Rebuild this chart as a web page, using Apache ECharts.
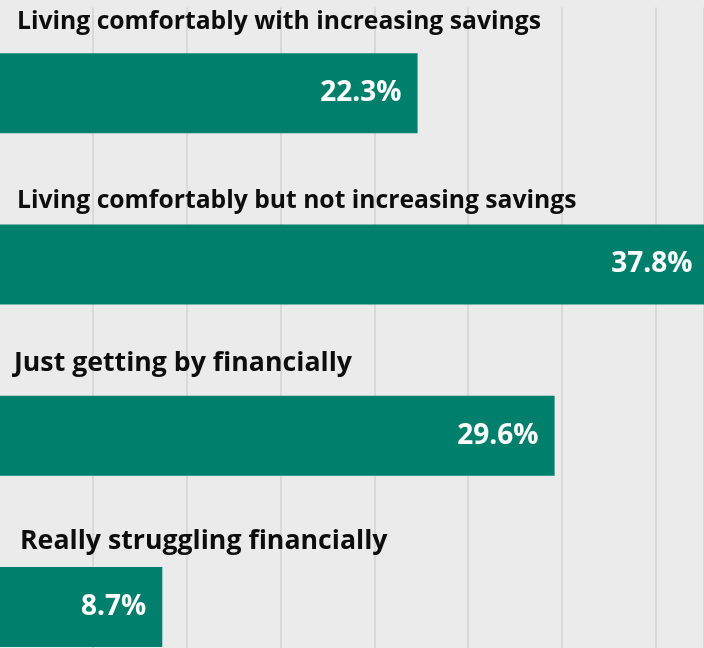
<!DOCTYPE html>
<html>
<head>
<meta charset="utf-8">
<script src="https://cdn.jsdelivr.net/npm/echarts@6/dist/echarts.min.js"></script>
<style>
html,body{margin:0;padding:0;background:#ebebeb;}
#chart{width:704px;height:648px;}
</style>
</head>
<body>
<div id="chart"></div>
<script>
const categories = [
  'Living comfortably with increasing savings',
  'Living comfortably but not increasing savings',
  'Just getting by financially',
  'Really struggling financially'
];
const values = [22.3, 37.8, 29.6, 8.7];
const xTicks = [0, 5, 10, 15, 20, 25, 30, 35];

// label placement / size (style only)
const catLabelPos = [[18, -31], [18, -23], [15, -32], [21, -25]];
const catLabelSize = [24.7, 24.7, 26.7, 26.7];

const FONT = '"Open Sans", "Liberation Sans", sans-serif';
const chart = echarts.init(document.getElementById('chart'), null, {renderer: 'canvas'});

chart.setOption({
  backgroundColor: '#ebebeb',
  animation: false,
  grid: {left: -1, right: 0, top: 7.5, height: 685, containLabel: false, outerBoundsMode: 'none'},
  xAxis: {
    type: 'value',
    min: 0,
    max: 37.56,
    interval: 5,
    axisLine: {show: false},
    axisTick: {show: false},
    axisLabel: {show: false},
    splitLine: {show: true, lineStyle: {color: '#d9d9d9', width: 2}}
  },
  yAxis: {
    type: 'category',
    data: categories,
    inverse: true,
    axisLine: {show: false},
    axisTick: {show: false},
    axisLabel: {show: false},
    splitLine: {show: false}
  },
  series: [
    {
      type: 'bar',
      data: values,
      barWidth: 80,
      clip: false,
      itemStyle: {color: '#00806c'},
      label: {
        show: true,
        position: 'insideRight',
        distance: 16,
        formatter: p => p.value.toFixed(1) + '%',
        color: '#ffffff',
        fontFamily: FONT,
        fontWeight: 'bold',
        fontSize: 28
      },
      z: 2
    },
    {
      type: 'bar',
      barGap: '-100%',
      barWidth: 80,
      clip: false,
      silent: true,
      data: values.map((v, i) => ({
        value: v,
        label: {position: catLabelPos[i], fontSize: catLabelSize[i]}
      })),
      itemStyle: {color: 'rgba(0,0,0,0)'},
      label: {
        show: true,
        formatter: p => categories[p.dataIndex],
        align: 'left',
        verticalAlign: 'middle',
        color: '#0d0d0d',
        fontFamily: FONT,
        fontWeight: 'bold',
        fontSize: 25
      },
      z: 3
    }
  ]
});
</script>
</body>
</html>
